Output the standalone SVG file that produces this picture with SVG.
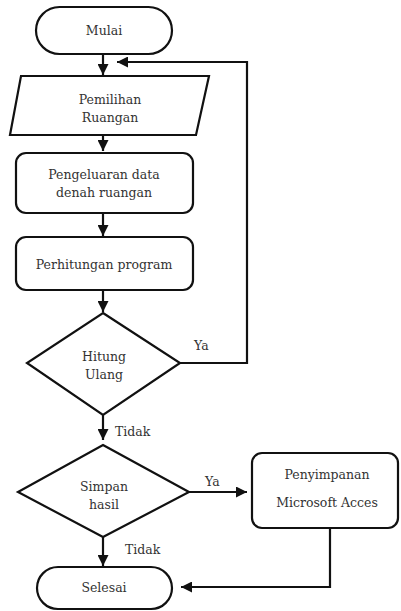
<svg xmlns="http://www.w3.org/2000/svg" width="401" height="611" viewBox="0 0 401 611">
<defs>
<marker id="ah" viewBox="0 0 10 10" refX="10" refY="5" markerWidth="5" markerHeight="5" orient="auto" markerUnits="strokeWidth">
<path d="M0,0 L10,5 L0,10 z" fill="#111"/>
</marker>
<style>
.s{fill:#fff;stroke:#111;stroke-width:2.2}
.c{fill:none;stroke:#111;stroke-width:2.2}
text{font-family:"DejaVu Serif","Liberation Serif",serif;font-size:12.5px;fill:#333;text-anchor:middle}
.l{text-anchor:start}
</style>
</defs>
<rect width="401" height="611" fill="#fff"/>
<g id="connectors">
<path class="c" d="M103,54 V75" marker-end="url(#ah)"/>
<path class="c" d="M103,135 V151" marker-end="url(#ah)"/>
<path class="c" d="M103,213 V236" marker-end="url(#ah)"/>
<path class="c" d="M103,290 V312" marker-end="url(#ah)"/>
<path class="c" d="M180,363 H247 V62 H117" marker-end="url(#ah)"/>
<path class="c" d="M103,415 V440" marker-end="url(#ah)"/>
<path class="c" d="M189,492 H247" marker-end="url(#ah)"/>
<path class="c" d="M103,537 V566" marker-end="url(#ah)"/>
<path class="c" d="M330,528 V587 H181" marker-end="url(#ah)"/>
<text class="l" x="194" y="350">Ya</text>
<text class="l" x="115" y="436">Tidak</text>
<text class="l" x="205" y="486">Ya</text>
<text class="l" x="125" y="554">Tidak</text>
</g>
<g id="mulai">
<rect class="s" x="36" y="7" width="136" height="47" rx="23.5"/>
<text x="104" y="35">Mulai</text>
</g>
<g id="pemilihan">
<path class="s" d="M21,76 H209 L196,135 H10 Z"/>
<text x="110" y="104">Pemilihan</text>
<text x="110" y="122">Ruangan</text>
</g>
<g id="pengeluaran">
<rect class="s" x="16" y="153" width="177" height="60" rx="10"/>
<text x="104" y="179">Pengeluaran data</text>
<text x="104" y="197">denah ruangan</text>
</g>
<g id="perhitungan">
<rect class="s" x="16" y="237" width="177" height="53" rx="10"/>
<text x="104" y="269">Perhitungan program</text>
</g>
<g id="hitung">
<path class="s" d="M103,313 L180,363 L103,415 L27,363 Z"/>
<text x="104" y="361">Hitung</text>
<text x="104" y="379">Ulang</text>
</g>
<g id="simpan">
<path class="s" d="M103,445 L189,492 L103,537 L18,492 Z"/>
<text x="104" y="491">Simpan</text>
<text x="104" y="509">hasil</text>
</g>
<g id="penyimpanan">
<rect class="s" x="252" y="453" width="146" height="75" rx="10"/>
<text x="327" y="479">Penyimpanan</text>
<text x="327" y="507">Microsoft Acces</text>
</g>
<g id="selesai">
<rect class="s" x="37" y="567" width="135" height="42" rx="21"/>
<text x="104" y="592">Selesai</text>
</g>
</svg>
